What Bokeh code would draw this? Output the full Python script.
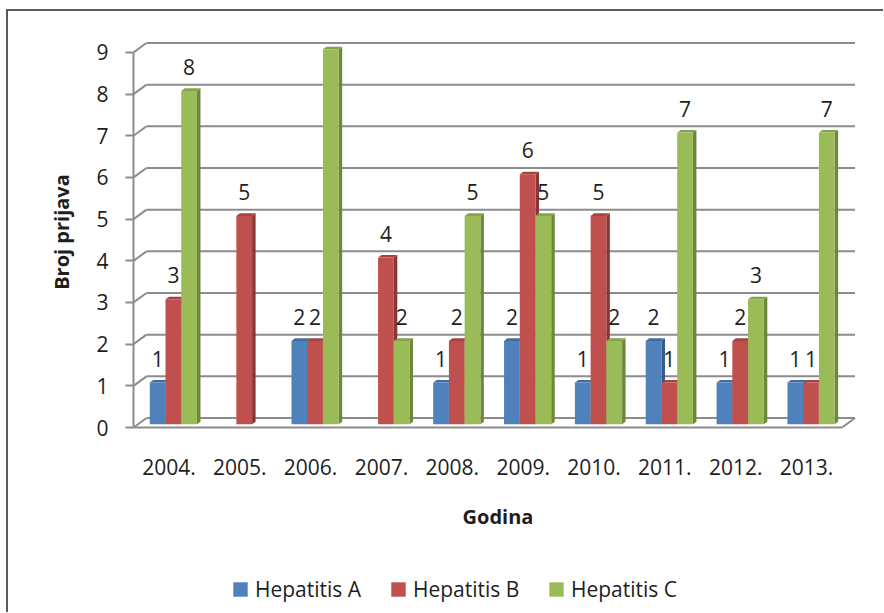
from bokeh.plotting import figure
from bokeh.layouts import column
from bokeh.models import Range1d, FixedTicker, Legend, LegendItem
from bokeh.core.properties import value
from bokeh.embed import file_html
from bokeh.resources import INLINE

# ---------------- data ----------------
years = [2004, 2005, 2006, 2007, 2008, 2009, 2010, 2011, 2012, 2013]
year_labels = ["2004.", "2005.", "2006.", "2007.", "2008.", "2009.",
               "2010.", "2011.", "2012.", "2013."]
series_names = ["Hepatitis A", "Hepatitis B", "Hepatitis C"]
hepatitis_a = [1, 0, 2, 0, 1, 2, 1, 2, 1, 1]
hepatitis_b = [3, 5, 2, 4, 2, 6, 5, 1, 2, 1]
hepatitis_c = [8, 0, 9, 2, 5, 5, 2, 7, 3, 7]
y_ticks = [0, 1, 2, 3, 4, 5, 6, 7, 8, 9]
x_title = "Godina"
y_title = "Broj prijava"

# ---------------- style ----------------
front_colors = ["#4F81BD", "#C0504D", "#9BBB59"]
top_colors = ["#3F6CA3", "#A54340", "#84A34A"]
side_colors = ["#34598A", "#893634", "#6C893B"]
FONT = "Open Sans"
TEXT = "#1E1E1E"
GRID = "#8C8C8C"
BORDER = "#5A5A5A"
FS = "21px"
FS_TITLE = "20px"

# geometry (pixels per unit and 3D depth)
FIG_W = 875
PX_PER_CAT = 70.85
PX_PER_UNIT = 41.67
FRAME_W = 729
FRAME_H = 391
DEPTH_X = 13 / PX_PER_CAT
DEPTH_Y = 9.5 / PX_PER_UNIT
BAR_W = 0.222
FIRST_OFF = -0.3325
F0, F1 = 0.34, 0.61

x_lo = years[0] - 0.5
x_hi = years[-1] + 0.5

p = figure(width=FIG_W, height=552,
           x_range=Range1d(x_lo, x_lo + FRAME_W / PX_PER_CAT),
           y_range=Range1d(0, FRAME_H / PX_PER_UNIT),
           output_backend="svg", toolbar_location=None,
           min_border_left=125, min_border_right=FIG_W - 125 - FRAME_W,
           min_border_top=25, min_border_bottom=136,
           background_fill_color="white", border_fill_color="white",
           outline_line_color=None)
p.grid.visible = False

# ---------------- 3D walls ----------------
n = len(y_ticks)
p.segment(x0=[x_lo] * n, y0=y_ticks,
          x1=[x_lo + DEPTH_X] * n, y1=[v + DEPTH_Y for v in y_ticks],
          line_color=GRID, line_width=2)
p.segment(x0=[x_lo + DEPTH_X] * n, y0=[v + DEPTH_Y for v in y_ticks],
          x1=[x_hi + DEPTH_X] * n, y1=[v + DEPTH_Y for v in y_ticks],
          line_color=GRID, line_width=2)
p.segment(x0=[x_hi], y0=[y_ticks[0]], x1=[x_hi + DEPTH_X], y1=[y_ticks[0] + DEPTH_Y],
          line_color=GRID, line_width=2)

# ---------------- bars ----------------
all_values = [hepatitis_a, hepatitis_b, hepatitis_c]
base = F0 * DEPTH_Y
ddx = (F1 - F0) * DEPTH_X
ddy = (F1 - F0) * DEPTH_Y
label_x, label_y, label_t = [], [], []
for k, vals in enumerate(all_values):
    lefts, rights, tops = [], [], []
    for yr, v in zip(years, vals):
        if v <= 0:
            continue
        l = yr + FIRST_OFF + k * BAR_W + F0 * DEPTH_X
        lefts.append(l)
        rights.append(l + BAR_W)
        tops.append(base + v)
        label_x.append(l + BAR_W / 2)
        label_y.append(base + v)
        label_t.append(str(v))
    p.patches(xs=[[r, r + ddx, r + ddx, r] for r in rights],
              ys=[[base, base + ddy, t + ddy, t] for t in tops],
              fill_color=side_colors[k], line_color=None)
    p.patches(xs=[[l, r, r + ddx, l + ddx] for l, r in zip(lefts, rights)],
              ys=[[t, t, t + ddy, t + ddy] for t in tops],
              fill_color=top_colors[k], line_color=None)
    p.quad(left=lefts, right=rights, bottom=base, top=tops,
           fill_color=front_colors[k], line_color=None)

p.text(x=label_x, y=label_y, text=label_t, text_align="center",
       text_baseline="middle", y_offset=-24,
       text_font=value(FONT), text_font_size=FS, text_color=TEXT)

# ---------------- axes ----------------
xa = p.xaxis[0]
xa.ticker = FixedTicker(ticks=years)
xa.major_label_overrides = {yr: lab for yr, lab in zip(years, year_labels)}
xa.major_tick_out = 0
xa.major_tick_in = 0
xa.minor_tick_out = 0
xa.minor_tick_in = 0
xa.bounds = (x_lo, x_hi)
xa.axis_line_color = GRID
xa.axis_line_width = 2
xa.major_label_text_font = FONT
xa.major_label_text_font_size = FS
xa.major_label_text_color = TEXT
xa.major_label_standoff = 31
xa.axis_label = x_title
xa.axis_label_text_font = FONT
xa.axis_label_text_font_style = "bold"
xa.axis_label_text_font_size = FS_TITLE
xa.axis_label_text_color = TEXT
xa.axis_label_standoff = 25

ya = p.yaxis[0]
ya.ticker = FixedTicker(ticks=y_ticks)
ya.bounds = (y_ticks[0], y_ticks[-1])
ya.major_tick_out = 8
ya.major_tick_in = 0
ya.minor_tick_out = 0
ya.minor_tick_in = 0
ya.major_tick_line_color = GRID
ya.major_tick_line_width = 2
ya.axis_line_color = GRID
ya.axis_line_width = 2
ya.major_label_text_font = FONT
ya.major_label_text_font_size = FS
ya.major_label_text_color = TEXT
ya.major_label_standoff = 17
ya.axis_label = y_title
ya.axis_label_text_font = FONT
ya.axis_label_text_font_style = "bold"
ya.axis_label_text_font_size = FS_TITLE
ya.axis_label_text_color = TEXT
ya.axis_label_standoff = 18

# ---------------- legend (strip below, frame aligned with chart) ----------------
LEG_H = 49
q = figure(width=FIG_W, height=LEG_H, x_range=Range1d(0, 1), y_range=Range1d(0, 1),
           output_backend="svg", toolbar_location=None,
           x_axis_location=None, y_axis_location=None,
           min_border=0, background_fill_color="white", border_fill_color="white",
           outline_line_color=None)
q.grid.visible = False
leg_renderers = [q.quad(left=[-3], right=[-2], bottom=[-3], top=[-2],
                        fill_color=front_colors[k], line_color=None)
                 for k in range(3)]
legend = Legend(items=[LegendItem(label=series_names[k], renderers=[leg_renderers[k]])
                       for k in range(3)],
                orientation="horizontal", location=(98, 9),
                glyph_width=18, glyph_height=18, label_standoff=6,
                spacing=16, label_width=118, padding=0, margin=0,
                border_line_color=None, background_fill_alpha=0,
                label_text_font=FONT, label_text_font_size=FS,
                label_text_color=TEXT)
q.add_layout(legend, "center")

layout = column(p, q, spacing=0,
                styles={"border-left": f"2px solid {BORDER}",
                        "border-top": f"2px solid {BORDER}",
                        "margin-left": "6px", "margin-top": "9px"})
open("out.html", "w").write(file_html(layout, INLINE))
